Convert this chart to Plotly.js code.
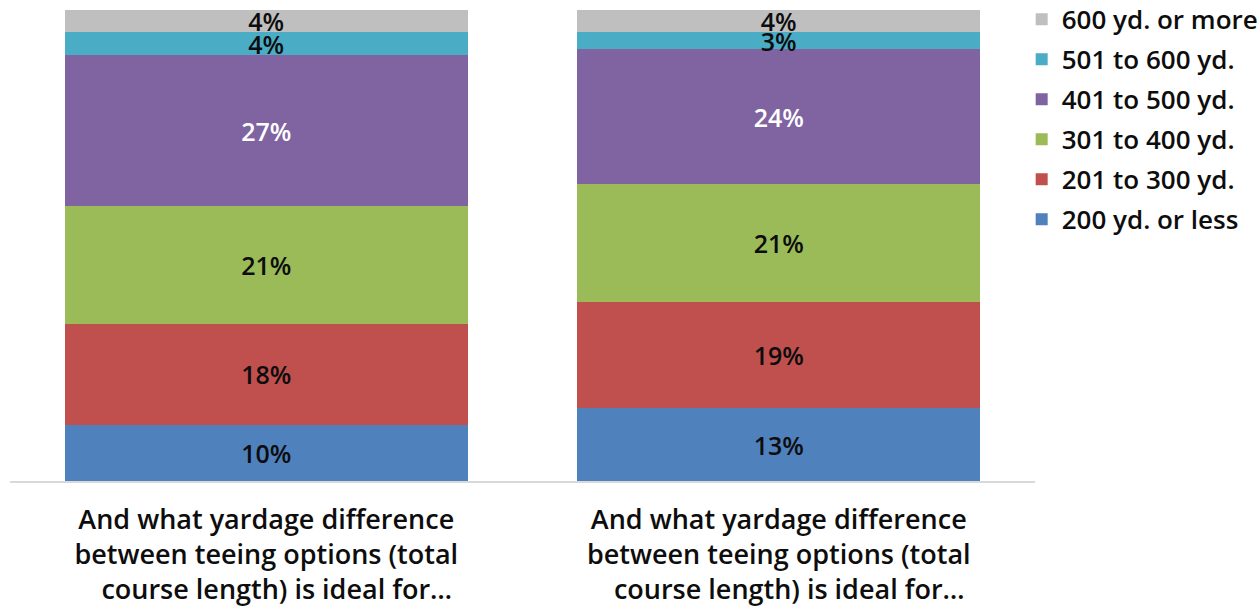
<!DOCTYPE html>
<html>
<head>
<meta charset="utf-8">
<script src="https://cdn.plot.ly/plotly-3.0.1.min.js"></script>
<style>
  html, body { margin: 0; padding: 0; background: #fff; }
  #chart { width: 1260px; height: 606px; }
</style>
</head>
<body>
<div id="chart"></div>
<script>
// Two question groups on the x axis (same wording, kept apart by index)
const groupKeys = [0, 1];
const groupLabels = [
  'And what yardage difference<br>between teeing options (total<br>\u00A0\u00A0\u00A0course length) is ideal for…',
  'And what yardage difference<br>between teeing options (total<br>\u00A0\u00A0\u00A0course length) is ideal for…'
];

// Yardage bands, bottom to top of each stack
const bandNames = ['200 yd. or less', '201 to 300 yd.', '301 to 400 yd.', '401 to 500 yd.', '501 to 600 yd.', '600 yd. or more'];
const bandColors = ['#4F81BD', '#C0504D', '#9BBB59', '#8064A2', '#4BACC6', '#BFBFBF'];
const labelColors = ['#0D0D0D', '#0D0D0D', '#0D0D0D', '#FFFFFF', '#0D0D0D', '#0D0D0D'];

// Percent answering each band, per group
const under200 = [10, 13];
const from201to300 = [18, 19];
const from301to400 = [21, 21];
const from401to500 = [27, 24];
const from501to600 = [4, 3];
const over600 = [4, 4];

const bandValues = [under200, from201to300, from301to400, from401to500, from501to600, over600];

const FONT = '"Open Sans", Roboto, sans-serif';
const WEIGHT = 600;

const traces = bandValues.map((vals, i) => ({
  type: 'bar',
  name: bandNames[i],
  legendgroup: 'g' + i,
  legendrank: 100 - i,
  x: groupKeys,
  y: vals,
  text: vals.map(v => v + '%'),
  textposition: 'inside',
  insidetextanchor: 'middle',
  textangle: 0,
  constraintext: 'none',
  textfont: { family: FONT, size: 25, weight: WEIGHT, color: labelColors[i] },
  marker: { color: bandColors[i], line: { width: 0 } },
  hoverinfo: 'name+text'
}));

const layout = {
  width: 1260,
  height: 606,
  margin: { l: 10, r: 225, t: 10, b: 125, autoexpand: false },
  barmode: 'stack',
  barnorm: 'percent',
  bargap: 0.214,
  paper_bgcolor: '#ffffff',
  plot_bgcolor: '#ffffff',
  font: { family: FONT, color: '#0D0D0D' },
  showlegend: true,
  legend: {
    x: 0.987, xanchor: 'left',
    y: 1.03, yanchor: 'top',
    traceorder: 'grouped',
    tracegroupgap: 3.2,
    font: { family: FONT, size: 26, weight: WEIGHT, color: '#0D0D0D' },
    itemwidth: 30
  },
  xaxis: {
    type: 'linear',
    range: [-0.5, 1.5],
    tickmode: 'array',
    tickvals: groupKeys,
    ticktext: groupLabels,
    tickfont: { family: FONT, size: 27, weight: WEIGHT, color: '#0D0D0D' },
    ticks: '',
    ticklabelstandoff: 14,
    automargin: false,
    showgrid: false,
    zeroline: false,
    showline: true,
    linecolor: '#D9D9D9',
    linewidth: 1.5,
    fixedrange: true
  },
  yaxis: {
    range: [0, 100],
    showticklabels: false,
    showgrid: false,
    zeroline: false,
    showline: false,
    ticks: '',
    automargin: false,
    fixedrange: true
  }
};

Plotly.newPlot('chart', traces, layout, { displayModeBar: false, staticPlot: true });
</script>
</body>
</html>
